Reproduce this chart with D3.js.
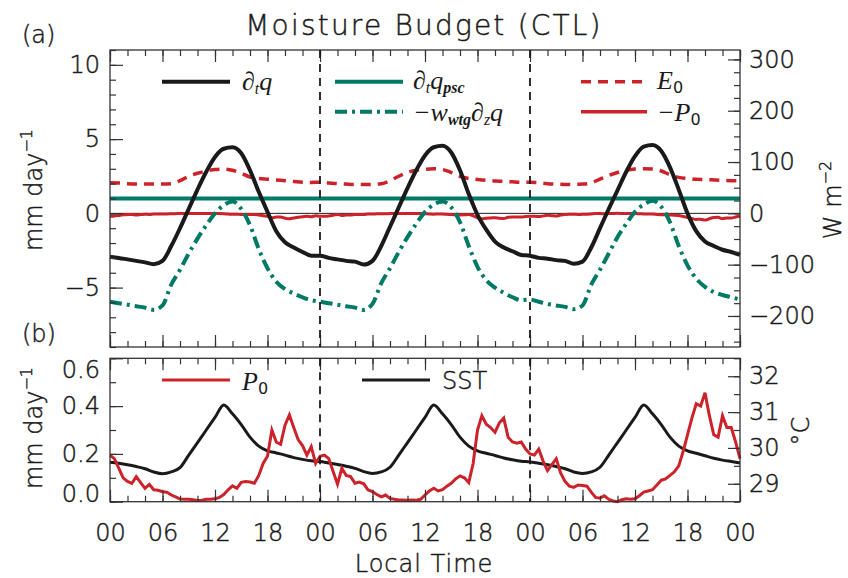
<!DOCTYPE html>
<html><head><meta charset="utf-8">
<script src="https://cdn.jsdelivr.net/npm/d3@7"></script>
<style>
body{margin:0;background:#fff}
text{font-family:"DejaVu Sans",sans-serif;font-weight:200;fill:#1a1a1a;stroke:#1a1a1a;stroke-width:0.45}
.math{font-family:"Liberation Serif",serif;font-style:italic;font-weight:normal;stroke:none}
</style></head><body>
<div id="chart"></div>
<script>
// hourly time axis, 3 days
var hours = d3.range(0, 73)
// half-hourly axis for precip
var halfHours = d3.range(0, 72.5, 0.5)

// d_t q  (mm/day)
var dtq = [-2.92,-3.0,-3.1,-3.2,-3.3,-3.42,-3.2,-2.2,-1.0,0.3,1.6,2.8,3.8,4.35,4.45,4.05,2.9,1.45,0.1,-1.2,-1.95,-2.3,-2.6,-2.85,
  -2.85,-3.0,-3.1,-3.2,-3.25,-3.45,-3.2,-2.2,-0.9,0.4,1.7,2.9,3.9,4.45,4.55,4.1,2.9,1.3,-0.1,-1.1,-1.9,-2.3,-2.55,-2.8,
  -2.85,-3.0,-3.05,-3.15,-3.2,-3.4,-3.25,-2.3,-1.0,0.3,1.55,2.8,3.85,4.5,4.6,4.2,3.1,1.6,0.0,-1.2,-1.9,-2.2,-2.45,-2.6,-2.8]
// -w_wtg d_z q
var wdzq = [-5.95,-6.05,-6.15,-6.25,-6.35,-6.5,-6.2,-4.8,-3.8,-2.7,-1.7,-0.8,0.0,0.55,0.8,0.3,-0.8,-2.4,-3.7,-4.6,-5.1,-5.4,-5.65,-5.85,
  -5.95,-6.05,-6.15,-6.25,-6.35,-6.5,-6.1,-4.7,-3.7,-2.6,-1.6,-0.7,0.1,0.6,0.8,0.4,-0.6,-2.2,-3.6,-4.5,-5.0,-5.35,-5.65,-5.85,
  -5.8,-5.95,-6.1,-6.2,-6.3,-6.45,-6.2,-4.8,-3.8,-2.7,-1.6,-0.7,0.1,0.6,0.85,0.45,-0.6,-2.2,-3.5,-4.4,-4.95,-5.3,-5.5,-5.65,-5.8]
// d_t q_psc (constant)
var pscHours = [0, 72]
var psc = [1.0, 1.0]
// E0 surface evaporation
var e0 = [2.06,2.05,2.0,1.98,1.98,1.97,1.97,2.0,2.2,2.5,2.7,2.85,2.95,2.98,2.9,2.7,2.45,2.35,2.3,2.25,2.2,2.15,2.1,2.08,
  2.1,2.05,2.0,1.97,1.95,1.95,1.95,2.0,2.2,2.5,2.75,2.9,2.97,3.0,2.95,2.75,2.5,2.35,2.28,2.22,2.18,2.15,2.12,2.1,
  2.1,2.05,2.0,1.97,1.95,1.95,1.97,2.05,2.3,2.55,2.75,2.9,2.98,3.0,2.98,2.85,2.6,2.42,2.35,2.3,2.28,2.25,2.22,2.2,2.2]
// P0 precipitation, half hourly
var p0 = [0.195,0.18,0.14,0.10,0.085,0.077,0.105,0.08,0.056,0.072,0.05,0.048,0.042,0.04,0.028,0.02,0.011,0.01,0.01,0.008,0.005,0.006,0.01,0.01,
  0.012,0.018,0.03,0.05,0.066,0.056,0.081,0.084,0.082,0.077,0.11,0.16,0.19,0.30,0.25,0.24,0.32,0.363,0.31,0.26,0.235,0.195,0.23,0.16,
  0.19,0.195,0.18,0.126,0.073,0.14,0.11,0.105,0.077,0.082,0.075,0.049,0.042,0.03,0.02,0.028,0.014,0.01,0.007,0.007,0.006,0.007,0.006,0.01,
  0.028,0.045,0.056,0.045,0.05,0.065,0.077,0.095,0.108,0.1,0.08,0.16,0.30,0.36,0.324,0.31,0.29,0.33,0.35,0.27,0.25,0.245,0.25,0.22,
  0.2,0.195,0.22,0.17,0.13,0.155,0.18,0.12,0.085,0.065,0.06,0.07,0.068,0.065,0.04,0.018,0.015,0.025,0.01,0.003,0.0,0.008,0.012,0.01,
  0.012,0.025,0.04,0.045,0.05,0.07,0.09,0.095,0.11,0.125,0.15,0.21,0.28,0.35,0.41,0.40,0.456,0.36,0.28,0.27,0.36,0.31,0.31,0.25,0.18]
// SST (deg C)
var sst = [29.6,29.57,29.53,29.48,29.42,29.33,29.28,29.33,29.45,29.8,30.15,30.5,30.85,31.2,30.95,30.65,30.3,30.05,29.92,29.86,29.8,29.73,29.68,29.64,
  29.62,29.58,29.54,29.49,29.43,29.34,29.29,29.33,29.46,29.8,30.15,30.5,30.85,31.2,30.95,30.65,30.3,30.05,29.92,29.85,29.79,29.72,29.67,29.63,
  29.61,29.57,29.53,29.48,29.42,29.33,29.29,29.33,29.46,29.8,30.15,30.5,30.85,31.2,30.95,30.65,30.3,30.05,29.92,29.85,29.78,29.71,29.66,29.62,29.58]

var dayLines = [24, 48]
var xTicks = [0,6,12,18,24,30,36,42,48,54,60,66,72]

var black = "#1a1a1a", green = "#007a64", red = "#cc2229", axisCol = "#333"
var W = 848, H = 578
var x0 = 110, x1 = 740
var topY0 = 50, topY1 = 347
var botY0 = 358.3, botY1 = 501.7

var svg = d3.select("#chart").append("svg").attr("width", W).attr("height", H)

var xScale = d3.scaleLinear().domain([0,72]).range([x0, x1])
var yTop = d3.scaleLinear().domain([-9,11]).range([topY1, topY0])
var yTopR = d3.scaleLinear().domain([-9*28.94, 11*28.94]).range([topY1, topY0])
var yBot = d3.scaleLinear().domain([0,0.6]).range([botY1, botY0])
var yBotR = d3.scaleLinear().domain([28.5,32.5]).range([botY1, botY0])

function pad2(h){ var v = h % 24; if (h == 72) v = 0; return (v < 10 ? "0" : "") + v }

// draws the inward ticks on all four sides of a panel
function frame(yL, yR, yA, yB, leftMajor, leftMinor, rightMajor, rightMinor, leftFmt, rightFmt, xLabels){
  var g = svg.append("g")
  var axes = [
    [d3.axisBottom(xScale).tickValues(d3.range(0,73,2)).tickSize(-6).tickFormat(""), "translate(0,"+yB+")", "xminor"],
    [d3.axisBottom(xScale).tickValues(xTicks).tickSize(-12).tickPadding(22).tickFormat(xLabels ? pad2 : ""), "translate(0,"+yB+")", "xmajor"],
    [d3.axisTop(xScale).tickValues(d3.range(0,73,2)).tickSize(-6).tickFormat(""), "translate(0,"+yA+")", "tminor"],
    [d3.axisTop(xScale).tickValues(xTicks).tickSize(-12).tickFormat(""), "translate(0,"+yA+")", "tmajor"],
    [d3.axisLeft(yL).tickValues(leftMinor).tickSize(-6).tickFormat(""), "translate("+x0+",0)", "lminor"],
    [d3.axisLeft(yL).tickValues(leftMajor).tickSize(-13).tickPadding(10).tickFormat(leftFmt), "translate("+x0+",0)", "lmajor"],
    [d3.axisRight(yR).tickValues(rightMinor).tickSize(-6).tickFormat(""), "translate("+x1+",0)", "rminor"],
    [d3.axisRight(yR).tickValues(rightMajor).tickSize(-12).tickPadding(9).tickFormat(rightFmt), "translate("+x1+",0)", "rmajor"]
  ]
  axes.forEach(function(a){
    var ax = g.append("g").attr("class", a[2]).attr("transform", a[1]).call(a[0])
    ax.select(".domain").remove()
    ax.selectAll("line").attr("stroke", axisCol).attr("stroke-width", 1.2)
    ax.selectAll("text").attr("font-size", 24).attr("font-family", null).attr("fill", black)
  })
  g.append("rect").attr("x", x0).attr("y", yA).attr("width", x1-x0).attr("height", yB-yA)
    .attr("fill", "none").attr("stroke", axisCol).attr("stroke-width", 1.3)
  return g
}

function minus(d){ return d < 0 ? "\u2212" + (-d) : "" + d }

// ---------- panel (a)
svg.append("line").attr("x1", x0).attr("x2", x1).attr("y1", yTop(0)).attr("y2", yTop(0))
  .attr("stroke", black).attr("stroke-width", 1)

var lineTop = d3.line().x(function(d){return xScale(d[0])}).y(function(d){return yTop(d[1])}).curve(d3.curveMonotoneX)

svg.append("path").datum(halfHours.map(function(h,i){return [h, -p0[i]]}))
  .attr("d", lineTop).attr("fill","none").attr("stroke", red).attr("stroke-width", 3)
svg.append("path").datum(pscHours.map(function(h,i){return [h, psc[i]]}))
  .attr("d", lineTop).attr("fill","none").attr("stroke", green).attr("stroke-width", 4)
svg.append("path").datum(hours.map(function(h,i){return [h, e0[i]]}))
  .attr("d", lineTop).attr("fill","none").attr("stroke", red).attr("stroke-width", 3.5).attr("stroke-dasharray", "10,7")
svg.append("path").datum(hours.map(function(h,i){return [h, wdzq[i]]}))
  .attr("d", lineTop).attr("fill","none").attr("stroke", green).attr("stroke-width", 4).attr("stroke-dasharray", "12,5,3,5")
svg.append("path").datum(hours.map(function(h,i){return [h, dtq[i]]}))
  .attr("d", lineTop).attr("fill","none").attr("stroke", black).attr("stroke-width", 4)

frame(yTop, yTopR, topY0, topY1, [-5,0,5,10], d3.range(-9,12,1), [-200,-100,0,100,200,300], d3.range(-250,320,25), minus, minus, false)

// ---------- panel (b)
var lineBot = d3.line().x(function(d){return xScale(d[0])}).y(function(d){return yBot(d[1])})
var lineSst = d3.line().x(function(d){return xScale(d[0])}).y(function(d){return yBotR(d[1])}).curve(d3.curveMonotoneX)

svg.append("path").datum(hours.map(function(h,i){return [h, sst[i]]}))
  .attr("d", lineSst).attr("fill","none").attr("stroke", black).attr("stroke-width", 3)
svg.append("path").datum(halfHours.map(function(h,i){return [h, p0[i]]}))
  .attr("d", lineBot).attr("fill","none").attr("stroke", red).attr("stroke-width", 3)

var fb = frame(yBot, yBotR, botY0, botY1, [0,0.2,0.4,0.6], d3.range(0,0.61,0.1), [29,30,31,32], d3.range(28.5,32.6,0.5), d3.format(".1f"), d3.format("d"), true)
// end labels sit inside the frame like the original
fb.select(".lmajor").selectAll("text").filter(function(d){return d === 0}).attr("dy", "0.0em")
fb.select(".lmajor").selectAll("text").filter(function(d){return d === 0.6}).attr("dy", "0.8em")

// dashed day separators
dayLines.forEach(function(h){
  [[topY0, topY1], [botY0, botY1]].forEach(function(r){
    svg.append("line").attr("x1", xScale(h)).attr("x2", xScale(h)).attr("y1", r[0]).attr("y2", r[1])
      .attr("stroke", black).attr("stroke-width", 1.8).attr("stroke-dasharray", "8,6")
  })
})

// ---------- text
svg.append("text").attr("x", 424).attr("y", 35).attr("text-anchor", "middle").attr("font-size", 28)
  .attr("letter-spacing", 2.2).text("Moisture Budget (CTL)")
svg.append("text").attr("x", 22).attr("y", 43).attr("font-size", 24).text("(a)")
svg.append("text").attr("x", 22).attr("y", 342).attr("font-size", 24).text("(b)")
svg.append("text").attr("x", 424).attr("y", 572).attr("text-anchor", "middle").attr("font-size", 24)
  .attr("letter-spacing", 1).text("Local Time")

function rotLabel(x, y, parts){
  var t = svg.append("text").attr("transform", "translate("+x+","+y+") rotate(-90)")
    .attr("text-anchor", "middle").attr("font-size", 24)
  parts.forEach(function(p){
    var s = t.append("tspan").text(p[0])
    if (p[1]) s.attr("font-size", 16).attr("dy", p[1])
  })
}
rotLabel(42, 190, [["mm day"], ["\u22121", "-0.6em"]])
rotLabel(42, 428, [["mm day"], ["\u22121", "-0.6em"]])
rotLabel(841, 200, [["W m"], ["\u22122", "-0.6em"]])
rotLabel(809, 431, [["\u00B0C"]])

// legend helpers
function legLine(xa, xb, y, col, w, dash){
  svg.append("line").attr("x1", xa).attr("x2", xb).attr("y1", y).attr("y2", y)
    .attr("stroke", col).attr("stroke-width", w).attr("stroke-dasharray", dash || null)
}
function mathText(x, y, parts){
  var t = svg.append("text").attr("class", "math").attr("x", x).attr("y", y).attr("font-size", 26)
  parts.forEach(function(p){
    var s = t.append("tspan").attr("fill", black).text(p.t)
    if (p.sub) s.attr("font-size", 16).attr("dy", 4)
    if (p.up) s.attr("dy", -4)
    if (p.b) s.attr("font-weight", "bold")
    if (p.rm) s.attr("font-style", "normal").attr("font-family", "DejaVu Sans")
  })
}
legLine(162, 230, 81.7, black, 4)
mathText(242, 90, [{t:"\u2202"}, {t:"t", sub:1}, {t:"q", up:1}])
legLine(335, 403, 81.7, green, 4)
mathText(413, 89, [{t:"\u2202"}, {t:"t", sub:1}, {t:"q", up:1}, {t:"psc", sub:1, b:1}])
legLine(335, 403, 111.7, green, 4, "12,5,3,5")
mathText(413, 121, [{t:"\u2212w"}, {t:"wtg", sub:1, b:1}, {t:"\u2202", up:1}, {t:"z", sub:1}, {t:"q", up:1}])
legLine(581, 647, 81.7, red, 3.5, "10,7")
mathText(657, 89, [{t:"E"}, {t:"0", sub:1, rm:1}])
legLine(581, 647, 111.7, red, 3.5)
mathText(657, 121, [{t:"\u2212P"}, {t:"0", sub:1, rm:1}])

legLine(162, 230, 380, red, 3)
mathText(242, 390, [{t:"P"}, {t:"0", sub:1, rm:1}])
legLine(362, 430, 380, black, 3)
svg.append("text").attr("x", 442).attr("y", 389).attr("font-size", 24).text("SST")
</script>
</body></html>
